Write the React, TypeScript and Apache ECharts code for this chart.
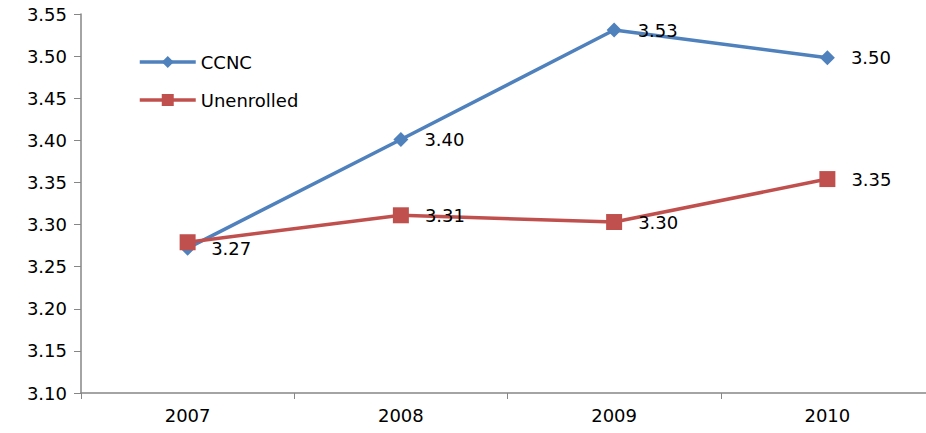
import React, { useEffect, useRef } from "react";
import * as echarts from "echarts";

const categories = ["2007", "2008", "2009", "2010"];
const ccncValues = [3.272, 3.401, 3.531, 3.498];
const unenrolledValues = [3.279, 3.311, 3.303, 3.354];
const yTicks = { min: 3.1, max: 3.55, interval: 0.05 };

const FONT = "DejaVu Sans";

export default function App() {
  const ref = useRef<HTMLDivElement>(null);
  useEffect(() => {
    if (!ref.current) return;
    const chart = echarts.init(ref.current, null, { renderer: "svg" });
    const labelStyle = {
      show: true,
      position: "right" as const,
      distance: 16,
      color: "#000",
      fontFamily: FONT,
      fontSize: 18,
      formatter: (p: any) => Number(p.value).toFixed(2),
    };
    chart.setOption({
      animation: false,
      backgroundColor: "#fff",
      grid: { left: 81, right: 6, top: 14, bottom: 40, containLabel: false },
      legend: {
        orient: "vertical",
        left: 138,
        top: 53,
        padding: 0,
        itemWidth: 56,
        itemHeight: 15,
        itemGap: 20,
        textStyle: { fontFamily: FONT, fontSize: 18, color: "#000" },
        data: [
          { name: "CCNC", lineStyle: { width: 3.5 } },
          { name: "Unenrolled", lineStyle: { width: 3.5 } },
        ],
      },
      xAxis: {
        type: "category",
        data: categories,
        boundaryGap: true,
        axisLine: { lineStyle: { color: "#868686", width: 1.5 } },
        axisTick: { show: true, length: 6, lineStyle: { color: "#868686" } },
        axisLabel: { fontFamily: FONT, fontSize: 18, color: "#000", margin: 13 },
      },
      yAxis: {
        type: "value",
        min: yTicks.min,
        max: yTicks.max,
        interval: yTicks.interval,
        splitLine: { show: false },
        axisLine: { show: true, lineStyle: { color: "#868686", width: 1.5 } },
        axisTick: { show: true, length: 7, lineStyle: { color: "#868686" } },
        axisLabel: {
          fontFamily: FONT,
          fontSize: 18,
          color: "#000",
          margin: 14,
          formatter: (v: number) => v.toFixed(2),
        },
      },
      series: [
        {
          name: "CCNC",
          type: "line",
          data: ccncValues,
          symbol: "diamond",
          symbolSize: 15,
          color: "#4F81BD",
          lineStyle: { width: 3.5, color: "#4F81BD" },
          itemStyle: { color: "#4F81BD" },
          label: labelStyle,
          z: 2,
        },
        {
          name: "Unenrolled",
          type: "line",
          data: unenrolledValues.map((v, i) =>
            i === 0 ? { value: v, label: { show: false } } : v
          ),
          symbol: "rect",
          symbolSize: 16,
          color: "#C0504D",
          lineStyle: { width: 3.5, color: "#C0504D" },
          itemStyle: { color: "#C0504D" },
          label: labelStyle,
          z: 3,
        },
      ],
    });
    return () => chart.dispose();
  }, []);
  return (
    <div
      ref={ref}
      style={{ position: "fixed", left: 0, top: 0, width: 940, height: 433 }}
    />
  );
}
